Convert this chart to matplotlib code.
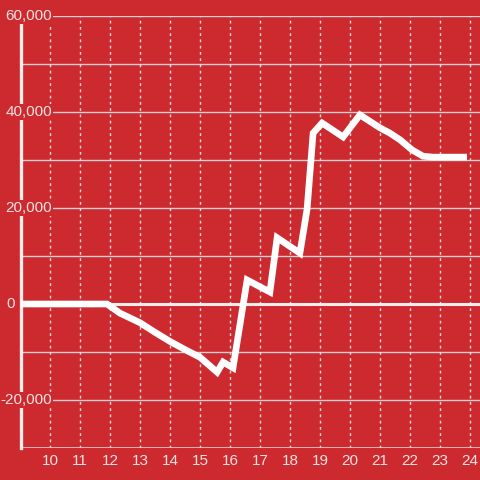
import matplotlib.pyplot as plt
import matplotlib.transforms as mtransforms

# data
hours = [9.0, 11.9, 12.33, 13.0, 13.5, 14.0, 14.5, 15.0, 15.57, 15.77, 16.1,
         16.57, 17.33, 17.57, 18.33, 18.57, 18.77, 19.07, 19.77, 20.33, 21.0,
         21.33, 21.67, 22.07, 22.43, 22.77, 23.9]
values = [0, 0, -1900, -3900, -5900, -7800, -9500, -11100, -14200, -12100, -13300,
          5000, 2500, 13800, 10600, 19800, 35600, 37700, 34800, 39400, 36700,
          35600, 34200, 32100, 30800, 30600, 30600]

x_ticks = list(range(10, 25))
y_labels = [60000, 40000, 20000, 0, -20000]
y_grid = list(range(-20000, 60001, 10000))

bg = '#cd2a2f'
txt = '#f3e3e3'

plt.rcParams['font.family'] = ['Liberation Sans', 'DejaVu Sans']

fig = plt.figure(figsize=(4.8, 4.8), dpi=100, facecolor=bg)
ax = fig.add_axes([21 / 480, 32 / 480, 459 / 480, 432 / 480], facecolor=bg)

ax.set_xlim(9.033, 24.333)
ax.set_ylim(-30000, 60000)

# grid
for v in y_grid:
    if v == 0:
        continue
    ax.axhline(v, color='#d6cfcf', lw=1.0, zorder=1)
for t in x_ticks:
    ax.axvline(t, color='#e8dada', lw=1.0, ls=(0, (2, 2.5)), zorder=1)
ax.axhline(-30000, color='#d6cfcf', lw=1.2, zorder=1)
ax.axhline(0, color='#f5ecec', lw=2.2, zorder=2)

ax.plot(hours, values, color='white', lw=4.8, solid_joinstyle='miter',
        solid_capstyle='butt', zorder=3)

for s in ['top', 'right', 'bottom']:
    ax.spines[s].set_visible(False)
ax.spines['left'].set_color('#f5ecec')
ax.spines['left'].set_linewidth(2.4)
ax.spines['left'].set_zorder(2)

ax.set_xticks(x_ticks)
ax.set_xticklabels([str(t) for t in x_ticks])
ax.tick_params(axis='x', length=0, pad=4.5, labelsize=11, labelcolor=txt)
ax.set_yticks([])

# y labels sit over the axis with a background box
trans = mtransforms.blended_transform_factory(fig.transFigure, ax.transData)
for v in y_labels:
    label = f'{v:,}'
    xr = 15 / 480 if v == 0 else 52 / 480
    ax.text(xr, v, label, transform=trans, ha='right', va='center',
            fontsize=11, color=txt, zorder=4,
            bbox=dict(facecolor=bg, edgecolor='none', pad=1.0))

fig.savefig('out.png', dpi=100, facecolor=bg)
